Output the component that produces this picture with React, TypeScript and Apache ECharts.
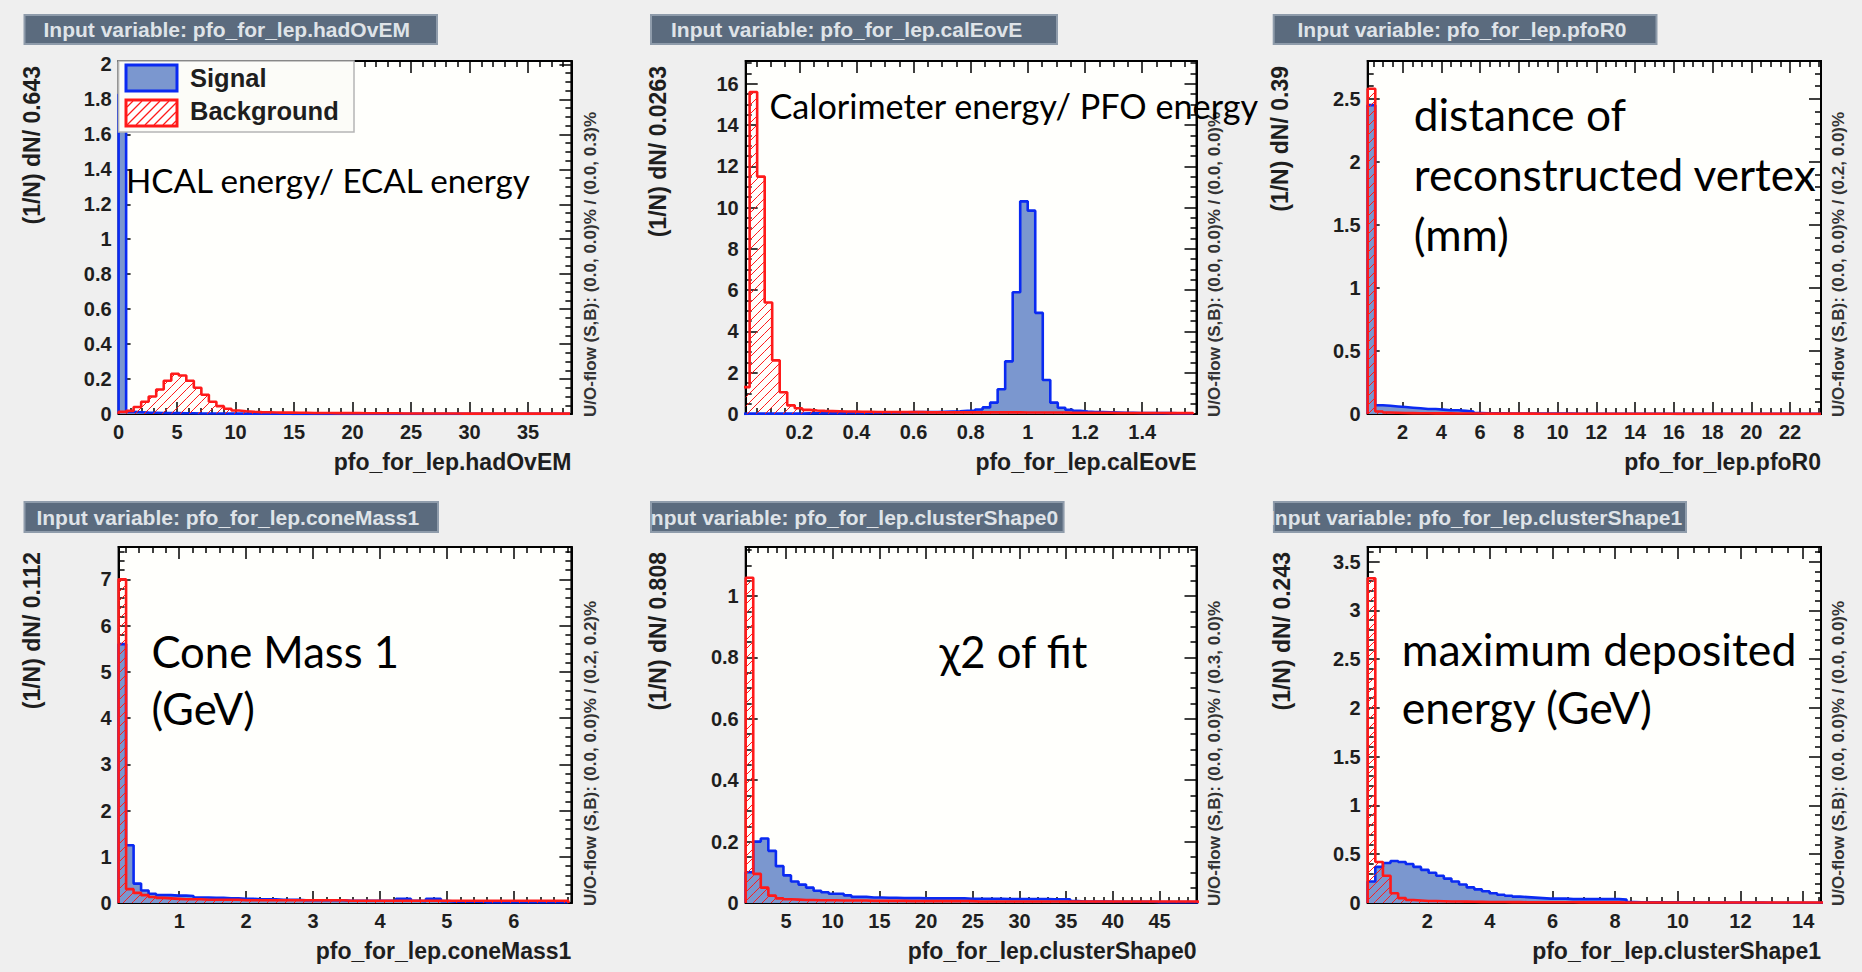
import React, { useEffect, useRef } from "react";
import * as echarts from "echarts";

// ---------------- DATA ----------------
// Panel 1: pfo_for_lep.hadOvEM
const HAD_NAME = "pfo_for_lep.hadOvEM";
const HAD_X_RANGE = [0, 38.7];
const HAD_Y_MAX = 2.02;
const HAD_BIN_START = 0;
const HAD_BIN_WIDTH = 0.643;
const HAD_X_TICKS = [0, 5, 10, 15, 20, 25, 30, 35];
const HAD_Y_TICKS = [0, 0.2, 0.4, 0.6, 0.8, 1, 1.2, 1.4, 1.6, 1.8, 2];
const HAD_MINOR = [1, 0.05];
const HAD_SIGNAL = [
  1.83, 0.012, 0.010, 0.008, 0.007, 0.006, 0.005, 0.005, 0.004, 0.004,
  0.003, 0.003, 0.003, 0.003, 0.002, 0.002, 0.002, 0.002, 0.002, 0.002,
  0.002, 0.002, 0.001, 0.001, 0.001, 0.001, 0.001, 0.001, 0.001, 0.001,
  0.001, 0.001, 0.001, 0.001, 0.001, 0.001, 0.001, 0.001, 0.001, 0.001,
  0.001, 0.001, 0.001, 0.001, 0.001, 0.001, 0.001, 0.001, 0.001, 0.001,
  0.001, 0.001, 0.001, 0.001, 0.001, 0.001, 0.001, 0.001, 0.001, 0.001,
];
const HAD_BACKGROUND = [
  0.012, 0.018, 0.040, 0.070, 0.100, 0.140, 0.190, 0.230, 0.220, 0.190,
  0.150, 0.110, 0.070, 0.045, 0.030, 0.020, 0.016, 0.013, 0.011, 0.010,
  0.009, 0.008, 0.008, 0.007, 0.007, 0.006, 0.006, 0.006, 0.005, 0.005,
  0.005, 0.005, 0.004, 0.004, 0.004, 0.004, 0.004, 0.003, 0.003, 0.003,
  0.003, 0.003, 0.003, 0.003, 0.003, 0.002, 0.002, 0.002, 0.002, 0.002,
  0.002, 0.002, 0.002, 0.002, 0.002, 0.002, 0.002, 0.002, 0.002, 0.002,
];

// Panel 2: pfo_for_lep.calEovE
const CAL_NAME = "pfo_for_lep.calEovE";
const CAL_X_RANGE = [0.0125, 1.59];
const CAL_Y_MAX = 17.1;
const CAL_BIN_START = 0;
const CAL_BIN_WIDTH = 0.0263;
const CAL_X_TICKS = [0.2, 0.4, 0.6, 0.8, 1, 1.2, 1.4];
const CAL_Y_TICKS = [0, 2, 4, 6, 8, 10, 12, 14, 16];
const CAL_MINOR = [0.05, 0.5];
const CAL_SIGNAL = [
  0.02, 0.02, 0.02, 0.02, 0.02, 0.02, 0.02, 0.02, 0.03, 0.03,
  0.03, 0.03, 0.03, 0.04, 0.04, 0.04, 0.05, 0.05, 0.06, 0.07,
  0.08, 0.08, 0.09, 0.09, 0.10, 0.10, 0.11, 0.12, 0.13, 0.15,
  0.17, 0.22, 0.32, 0.55, 1.20, 2.55, 5.90, 10.30, 9.85, 4.90,
  1.65, 0.55, 0.30, 0.20, 0.15, 0.12, 0.10, 0.09, 0.08, 0.07,
  0.06, 0.06, 0.05, 0.05, 0.04, 0.04, 0.04, 0.03, 0.03, 0.03,
];
const CAL_BACKGROUND = [
  1.30, 15.60, 11.50, 5.40, 2.60, 1.05, 0.42, 0.28, 0.20, 0.17,
  0.15, 0.14, 0.13, 0.12, 0.12, 0.11, 0.11, 0.10, 0.10, 0.10,
  0.09, 0.09, 0.09, 0.09, 0.08, 0.08, 0.08, 0.08, 0.08, 0.08,
  0.08, 0.08, 0.08, 0.08, 0.08, 0.08, 0.08, 0.07, 0.07, 0.07,
  0.07, 0.07, 0.07, 0.06, 0.06, 0.06, 0.06, 0.06, 0.06, 0.05,
  0.05, 0.05, 0.05, 0.05, 0.05, 0.05, 0.04, 0.04, 0.04, 0.04,
];

// Panel 3: pfo_for_lep.pfoR0
const R0_NAME = "pfo_for_lep.pfoR0";
const R0_X_RANGE = [0.2, 23.6];
const R0_Y_MAX = 2.8;
const R0_BIN_START = 0.2;
const R0_BIN_WIDTH = 0.39;
const R0_X_TICKS = [2, 4, 6, 8, 10, 12, 14, 16, 18, 20, 22];
const R0_Y_TICKS = [0, 0.5, 1, 1.5, 2, 2.5];
const R0_MINOR = [0.5, 0.1];
const R0_SIGNAL = [
  2.45, 0.070, 0.065, 0.060, 0.055, 0.050, 0.045, 0.040, 0.040, 0.035,
  0.030, 0.030, 0.025, 0.020, 0.008, 0.006, 0.005, 0.005, 0.004, 0.004,
  0.004, 0.003, 0.003, 0.003, 0.003, 0.003, 0.003, 0.002, 0.002, 0.002,
  0.002, 0.002, 0.002, 0.002, 0.002, 0.002, 0.002, 0.002, 0.002, 0.002,
  0.001, 0.001, 0.001, 0.001, 0.001, 0.001, 0.001, 0.001, 0.001, 0.001,
  0.001, 0.001, 0.001, 0.001, 0.001, 0.001, 0.001, 0.001, 0.001, 0.001,
];
const R0_BACKGROUND = [
  2.58, 0.020, 0.012, 0.010, 0.008, 0.007, 0.006, 0.006, 0.005, 0.005,
  0.005, 0.004, 0.004, 0.004, 0.004, 0.003, 0.003, 0.003, 0.003, 0.003,
  0.003, 0.003, 0.002, 0.002, 0.002, 0.002, 0.002, 0.002, 0.002, 0.002,
  0.002, 0.002, 0.002, 0.002, 0.002, 0.002, 0.002, 0.002, 0.002, 0.002,
  0.001, 0.001, 0.001, 0.001, 0.001, 0.001, 0.001, 0.001, 0.001, 0.001,
  0.001, 0.001, 0.001, 0.001, 0.001, 0.001, 0.001, 0.001, 0.001, 0.001,
];

// Panel 4: pfo_for_lep.coneMass1
const CONE_NAME = "pfo_for_lep.coneMass1";
const CONE_X_RANGE = [0.094, 6.86];
const CONE_Y_MAX = 7.7;
const CONE_BIN_START = 0.094;
const CONE_BIN_WIDTH = 0.112;
const CONE_X_TICKS = [1, 2, 3, 4, 5, 6];
const CONE_Y_TICKS = [0, 1, 2, 3, 4, 5, 6, 7];
const CONE_MINOR = [0.2, 0.2];
const CONE_SIGNAL = [
  5.60, 1.25, 0.42, 0.27, 0.20, 0.17, 0.17, 0.16, 0.16, 0.15,
  0.12, 0.12, 0.11, 0.11, 0.10, 0.10, 0.09, 0.09, 0.08, 0.08,
  0.08, 0.07, 0.07, 0.07, 0.06, 0.06, 0.06, 0.06, 0.06, 0.06,
  0.05, 0.05, 0.05, 0.05, 0.05, 0.05, 0.05, 0.09, 0.09, 0.05,
  0.04, 0.09, 0.09, 0.04, 0.03, 0.03, 0.03, 0.03, 0.02, 0.02,
  0.02, 0.02, 0.02, 0.02, 0.02, 0.02, 0.02, 0.02, 0.02, 0.02,
];
const CONE_BACKGROUND = [
  7.00, 0.30, 0.22, 0.17, 0.13, 0.11, 0.10, 0.09, 0.08, 0.08,
  0.08, 0.07, 0.07, 0.07, 0.07, 0.07, 0.06, 0.06, 0.06, 0.06,
  0.06, 0.06, 0.06, 0.06, 0.06, 0.06, 0.06, 0.06, 0.06, 0.06,
  0.05, 0.05, 0.05, 0.05, 0.05, 0.05, 0.05, 0.05, 0.05, 0.05,
  0.05, 0.05, 0.05, 0.05, 0.05, 0.05, 0.05, 0.05, 0.05, 0.05,
  0.05, 0.05, 0.05, 0.05, 0.05, 0.05, 0.05, 0.05, 0.05, 0.05,
];

// Panel 5: pfo_for_lep.clusterShape0
const SH0_NAME = "pfo_for_lep.clusterShape0";
const SH0_X_RANGE = [0.68, 48.95];
const SH0_Y_MAX = 1.16;
const SH0_BIN_START = 0.68;
const SH0_BIN_WIDTH = 0.808;
const SH0_X_TICKS = [5, 10, 15, 20, 25, 30, 35, 40, 45];
const SH0_Y_TICKS = [0, 0.2, 0.4, 0.6, 0.8, 1];
const SH0_MINOR = [1, 0.05];
const SH0_SIGNAL = [
  0.10, 0.20, 0.21, 0.17, 0.12, 0.09, 0.07, 0.06, 0.05, 0.04,
  0.035, 0.030, 0.030, 0.025, 0.020, 0.020, 0.018, 0.018, 0.017, 0.017,
  0.016, 0.016, 0.016, 0.015, 0.015, 0.015, 0.015, 0.015, 0.015, 0.014,
  0.014, 0.014, 0.014, 0.014, 0.013, 0.013, 0.013, 0.013, 0.013, 0.013,
  0.012, 0.012, 0.012, 0.006, 0.005, 0.005, 0.005, 0.005, 0.004, 0.004,
  0.004, 0.004, 0.004, 0.004, 0.003, 0.003, 0.003, 0.003, 0.003, 0.003,
];
const SH0_BACKGROUND = [
  1.06, 0.095, 0.050, 0.024, 0.015, 0.012, 0.011, 0.010, 0.010, 0.009,
  0.009, 0.009, 0.008, 0.008, 0.008, 0.008, 0.007, 0.007, 0.007, 0.007,
  0.007, 0.006, 0.006, 0.006, 0.006, 0.006, 0.006, 0.006, 0.006, 0.006,
  0.005, 0.005, 0.005, 0.005, 0.005, 0.005, 0.005, 0.005, 0.005, 0.005,
  0.005, 0.005, 0.005, 0.005, 0.005, 0.005, 0.005, 0.005, 0.005, 0.005,
  0.005, 0.005, 0.005, 0.005, 0.005, 0.005, 0.005, 0.005, 0.005, 0.005,
];

// Panel 6: pfo_for_lep.clusterShape1
const SH1_NAME = "pfo_for_lep.clusterShape1";
const SH1_X_RANGE = [0.1, 14.57];
const SH1_Y_MAX = 3.65;
const SH1_BIN_START = 0.1;
const SH1_BIN_WIDTH = 0.243;
const SH1_X_TICKS = [2, 4, 6, 8, 10, 12, 14];
const SH1_Y_TICKS = [0, 0.5, 1, 1.5, 2, 2.5, 3, 3.5];
const SH1_MINOR = [0.5, 0.1];
const SH1_SIGNAL = [
  0.22, 0.37, 0.41, 0.43, 0.42, 0.40, 0.37, 0.34, 0.31, 0.28,
  0.25, 0.22, 0.19, 0.16, 0.14, 0.12, 0.10, 0.085, 0.075, 0.065,
  0.060, 0.055, 0.050, 0.045, 0.045, 0.045, 0.040, 0.040, 0.040, 0.040,
  0.040, 0.040, 0.040, 0.035, 0.010, 0.008, 0.008, 0.008, 0.007, 0.007,
  0.006, 0.006, 0.006, 0.005, 0.005, 0.005, 0.005, 0.004, 0.004, 0.004,
  0.004, 0.004, 0.003, 0.003, 0.003, 0.003, 0.003, 0.003, 0.003, 0.003,
];
const SH1_BACKGROUND = [
  3.33, 0.42, 0.28, 0.10, 0.05, 0.03, 0.025, 0.020, 0.020, 0.018,
  0.016, 0.015, 0.014, 0.013, 0.012, 0.011, 0.010, 0.010, 0.009, 0.009,
  0.008, 0.008, 0.008, 0.007, 0.007, 0.007, 0.007, 0.006, 0.006, 0.006,
  0.006, 0.006, 0.006, 0.005, 0.005, 0.005, 0.005, 0.005, 0.005, 0.005,
  0.005, 0.005, 0.005, 0.005, 0.005, 0.005, 0.005, 0.005, 0.005, 0.005,
  0.005, 0.005, 0.005, 0.005, 0.005, 0.005, 0.005, 0.005, 0.005, 0.005,
];

const Y_TITLES = [
  "(1/N) dN/ 0.643",
  "(1/N) dN/ 0.0263",
  "(1/N) dN/ 0.39",
  "(1/N) dN/ 0.112",
  "(1/N) dN/ 0.808",
  "(1/N) dN/ 0.243",
];
const FLOW_TEXTS = [
  "U/O-flow (S,B): (0.0, 0.0)% / (0.0, 0.3)%",
  "U/O-flow (S,B): (0.0, 0.0)% / (0.0, 0.0)%",
  "U/O-flow (S,B): (0.0, 0.0)% / (0.2, 0.0)%",
  "U/O-flow (S,B): (0.0, 0.0)% / (0.2, 0.2)%",
  "U/O-flow (S,B): (0.0, 0.0)% / (0.3, 0.0)%",
  "U/O-flow (S,B): (0.0, 0.0)% / (0.0, 0.0)%",
];
const ANNOTATIONS = [
  ["HCAL energy/ ECAL energy"],
  ["Calorimeter energy/ PFO energy"],
  ["distance of", "reconstructed vertex", "(mm)"],
  ["Cone Mass 1", "(GeV)"],
  ["χ2 of fit"],
  ["maximum deposited", "energy (GeV)"],
];
const LEGEND_LABELS = ["Signal", "Background"];

const PANELS = [
  { name: HAD_NAME, xr: HAD_X_RANGE, ymax: HAD_Y_MAX, start: HAD_BIN_START, bw: HAD_BIN_WIDTH, xt: HAD_X_TICKS, yt: HAD_Y_TICKS, minor: HAD_MINOR, sig: HAD_SIGNAL, bkg: HAD_BACKGROUND },
  { name: CAL_NAME, xr: CAL_X_RANGE, ymax: CAL_Y_MAX, start: CAL_BIN_START, bw: CAL_BIN_WIDTH, xt: CAL_X_TICKS, yt: CAL_Y_TICKS, minor: CAL_MINOR, sig: CAL_SIGNAL, bkg: CAL_BACKGROUND },
  { name: R0_NAME, xr: R0_X_RANGE, ymax: R0_Y_MAX, start: R0_BIN_START, bw: R0_BIN_WIDTH, xt: R0_X_TICKS, yt: R0_Y_TICKS, minor: R0_MINOR, sig: R0_SIGNAL, bkg: R0_BACKGROUND },
  { name: CONE_NAME, xr: CONE_X_RANGE, ymax: CONE_Y_MAX, start: CONE_BIN_START, bw: CONE_BIN_WIDTH, xt: CONE_X_TICKS, yt: CONE_Y_TICKS, minor: CONE_MINOR, sig: CONE_SIGNAL, bkg: CONE_BACKGROUND },
  { name: SH0_NAME, xr: SH0_X_RANGE, ymax: SH0_Y_MAX, start: SH0_BIN_START, bw: SH0_BIN_WIDTH, xt: SH0_X_TICKS, yt: SH0_Y_TICKS, minor: SH0_MINOR, sig: SH0_SIGNAL, bkg: SH0_BACKGROUND },
  { name: SH1_NAME, xr: SH1_X_RANGE, ymax: SH1_Y_MAX, start: SH1_BIN_START, bw: SH1_BIN_WIDTH, xt: SH1_X_TICKS, yt: SH1_Y_TICKS, minor: SH1_MINOR, sig: SH1_SIGNAL, bkg: SH1_BACKGROUND },
];

// ---------------- LAYOUT / STYLE ----------------
const GRID_BOXES = [
  { left: 118.6, top: 61, width: 452.8, height: 353 },
  { left: 745.7, top: 61, width: 450.8, height: 353 },
  { left: 1367.7, top: 61, width: 453.3, height: 353 },
  { left: 118.6, top: 547, width: 452.8, height: 356 },
  { left: 745.7, top: 547, width: 450.8, height: 356 },
  { left: 1367.7, top: 547, width: 453.3, height: 356 },
];
const TITLE_BOXES = [
  { x: 24.5, y: 15, w: 412.5, h: 29, tx: 43.5, cover: false },
  { x: 651, y: 15, w: 406, h: 29, tx: 671, cover: false },
  { x: 1273.7, y: 15, w: 382.8, h: 29, tx: 1297.5, cover: false },
  { x: 24.5, y: 502, w: 413.5, h: 30, tx: 36.4, cover: false },
  { x: 651, y: 502, w: 412.6, h: 30, tx: 645, cover: true },
  { x: 1273.7, y: 502, w: 412.3, h: 30, tx: 1269, cover: true },
];
const Y_TITLE_X = [31.6, 657.6, 1279.7, 31.6, 657.6, 1281.6];
const FLOW_X = [590, 1214, 1838, 590, 1214, 1838];
const ANNOT_POS = [
  { x: 126, ys: [180], size: 33.2 },
  { x: 769.5, ys: [105], size: 34.2 },
  { x: 1413.7, ys: [113.5, 173.5, 233], size: 44.2 },
  { x: 151.4, ys: [650.5, 708], size: 43.6 },
  { x: 939.5, ys: [650.5], size: 43.6 },
  { x: 1401.8, ys: [648.5, 706], size: 44.6 },
];

const BG = "#efefef";
const PLOT_BG = "#fffffc";
const SIG_FILL = "#7b97cf";
const SIG_LINE = "#0a2af2";
const BKG_LINE = "#ff1a1a";
const ROOT_FONT = "Liberation Sans";
const NOTE_FONT = "Lato";
const HATCH = 9;

function stepPoints(start: number, bw: number, values: number[]) {
  const pts: number[][] = [[start, 0]];
  values.forEach((v, i) => pts.push([start + i * bw, v]));
  const end = start + values.length * bw;
  pts.push([end, values[values.length - 1]]);
  pts.push([end, 0]);
  return pts;
}

function minorTicks(min: number, max: number, step: number, majors: number[]) {
  const out: number[] = [];
  const k0 = Math.ceil(min / step - 1e-9);
  for (let k = k0; k * step <= max + 1e-9; k++) {
    const v = +(k * step).toFixed(6);
    if (!majors.some((m) => Math.abs(m - v) < 1e-9)) out.push(v);
  }
  return out;
}

function hatchLines(left: number, top: number, right: number, bottom: number, color: string, lw: number) {
  const lines: any[] = [];
  for (let c = Math.ceil((left + top) / HATCH) * HATCH; c <= right + bottom; c += HATCH) {
    const xa = Math.max(left, c - bottom);
    const xb = Math.min(right, c - top);
    if (xb > xa) {
      lines.push({
        type: "line",
        shape: { x1: xa, y1: c - xa, x2: xb, y2: c - xb },
        style: { stroke: color, lineWidth: lw },
      });
    }
  }
  return lines;
}

function buildOption() {
  const grids: any[] = [];
  const xAxes: any[] = [];
  const yAxes: any[] = [];
  const series: any[] = [];
  const graphics: any[] = [];

  const tickLine = { color: "#000", width: 1.5 };
  const labelStyle = {
    fontFamily: ROOT_FONT,
    fontWeight: "bold",
    fontSize: 20,
    color: "#1e1e1e",
  };

  PANELS.forEach((p, i) => {
    const g = GRID_BOXES[i];
    grids.push({
      left: g.left,
      top: g.top,
      width: g.width,
      height: g.height,
      show: true,
      backgroundColor: PLOT_BG,
      borderColor: "#000",
      borderWidth: 2,
      containLabel: false,
      outerBoundsMode: "none",
    });
    const xMinor = minorTicks(p.xr[0], p.xr[1], p.minor[0], p.xt);
    const yMinor = minorTicks(0, p.ymax, p.minor[1], p.yt);

    const mkX = (position: string, values: number[], len: number, showLabel: boolean, showLine: boolean) => ({
      type: "value",
      gridIndex: i,
      position,
      min: p.xr[0],
      max: p.xr[1],
      axisLine: { show: showLine, onZero: false, lineStyle: { color: "#000", width: 2 } },
      axisTick: { show: true, inside: true, length: len, customValues: values, lineStyle: tickLine },
      axisLabel: showLabel
        ? { show: true, customValues: values, margin: 8, ...labelStyle }
        : { show: false },
      splitLine: { show: false },
      minorTick: { show: false },
    });
    const mkY = (position: string, values: number[], len: number, showLabel: boolean, showLine: boolean) => ({
      type: "value",
      gridIndex: i,
      position,
      min: 0,
      max: p.ymax,
      axisLine: { show: showLine, onZero: false, lineStyle: { color: "#000", width: 2 } },
      axisTick: { show: true, inside: true, length: len, customValues: values, lineStyle: tickLine },
      axisLabel: showLabel
        ? { show: true, customValues: values, margin: 7, ...labelStyle }
        : { show: false },
      splitLine: { show: false },
      minorTick: { show: false },
    });

    const xBase = xAxes.length;
    xAxes.push(mkX("bottom", p.xt, 12, true, true));
    xAxes.push(mkX("bottom", xMinor, 6, false, false));
    xAxes.push(mkX("top", p.xt, 12, false, true));
    xAxes.push(mkX("top", xMinor, 6, false, false));
    const yBase = yAxes.length;
    yAxes.push(mkY("left", p.yt, 12, true, true));
    yAxes.push(mkY("left", yMinor, 6, false, false));
    yAxes.push(mkY("right", p.yt, 12, false, true));
    yAxes.push(mkY("right", yMinor, 6, false, false));

    series.push({
      type: "line",
      name: LEGEND_LABELS[0],
      xAxisIndex: xBase,
      yAxisIndex: yBase,
      step: "end",
      data: stepPoints(p.start, p.bw, p.sig),
      symbol: "none",
      silent: true,
      lineStyle: { color: SIG_LINE, width: 2.6 },
      areaStyle: { color: SIG_FILL, opacity: 1 },
      z: 2,
    });
    series.push({
      type: "custom",
      name: LEGEND_LABELS[1] + " hatch",
      xAxisIndex: xBase,
      yAxisIndex: yBase,
      silent: true,
      z: 3,
      dimensions: ["x0", "x1", "v"],
      encode: { x: [0, 1], y: 2 },
      data: p.bkg.map((v, k) => [p.start + k * p.bw, p.start + (k + 1) * p.bw, v]),
      renderItem: (params: any, api: any) => {
        const a = api.coord([api.value(0), api.value(2)]);
        const b = api.coord([api.value(1), 0]);
        const cs = params.coordSys;
        const left = Math.max(a[0], cs.x);
        const right = Math.min(b[0], cs.x + cs.width);
        const top = Math.max(a[1], cs.y);
        const bottom = Math.min(b[1], cs.y + cs.height);
        if (right <= left || bottom - top < 1) return null;
        return { type: "group", children: hatchLines(left, top, right, bottom, BKG_LINE, 1) };
      },
    });
    series.push({
      type: "line",
      name: LEGEND_LABELS[1],
      xAxisIndex: xBase,
      yAxisIndex: yBase,
      step: "end",
      data: stepPoints(p.start, p.bw, p.bkg),
      symbol: "none",
      silent: true,
      lineStyle: { color: BKG_LINE, width: 2.6 },
      z: 4,
    });

    // title box
    const tb = TITLE_BOXES[i];
    graphics.push({
      type: "rect",
      shape: { x: tb.x, y: tb.y, width: tb.w, height: tb.h },
      style: { fill: "#5b6b7e", stroke: "#8f9cab", lineWidth: 2 },
      z: 100,
    });
    graphics.push({
      type: "text",
      x: tb.tx,
      y: tb.y + tb.h / 2,
      style: {
        text: "Input variable: " + p.name,
        fontFamily: ROOT_FONT,
        fontWeight: "bold",
        fontSize: 21,
        fill: "#dfe3e8",
        align: "left",
        verticalAlign: "middle",
      },
      z: 101,
    });
    if (tb.cover) {
      graphics.push({
        type: "rect",
        shape: { x: tb.x - 14, y: tb.y - 2, width: 13, height: tb.h + 4 },
        style: { fill: BG },
        z: 102,
      });
    }

    // y title
    graphics.push({
      type: "text",
      x: Y_TITLE_X[i],
      y: g.top + 5,
      rotation: Math.PI / 2,
      style: {
        text: Y_TITLES[i],
        fontFamily: ROOT_FONT,
        fontWeight: "bold",
        fontSize: 23,
        fill: "#1e1e1e",
        align: "right",
        verticalAlign: "middle",
      },
      z: 100,
    });
    // x title
    graphics.push({
      type: "text",
      x: g.left + g.width,
      y: g.top + g.height + 48,
      style: {
        text: p.name,
        fontFamily: ROOT_FONT,
        fontWeight: "bold",
        fontSize: 23,
        fill: "#1e1e1e",
        align: "right",
        verticalAlign: "middle",
      },
      z: 100,
    });
    // U/O flow
    graphics.push({
      type: "text",
      x: FLOW_X[i],
      y: g.top + g.height + 3,
      rotation: Math.PI / 2,
      style: {
        text: FLOW_TEXTS[i],
        fontFamily: ROOT_FONT,
        fontWeight: "bold",
        fontSize: 17,
        fill: "#333",
        align: "left",
        verticalAlign: "middle",
      },
      z: 100,
    });
    // annotations
    const ap = ANNOT_POS[i];
    ANNOTATIONS[i].forEach((line, k) => {
      graphics.push({
        type: "text",
        x: ap.x,
        y: ap.ys[k],
        style: {
          text: line,
          fontFamily: NOTE_FONT,
          fontSize: ap.size,
          fill: "#000",
          align: "left",
          verticalAlign: "middle",
        },
        z: 110,
      });
    });
  });

  // legend (panel 1)
  const lg = { x: 118.6, y: 61, w: 235.4, h: 71 };
  graphics.push({
    type: "rect",
    shape: { x: lg.x, y: lg.y, width: lg.w, height: lg.h },
    style: { fill: "#fcfcf8", stroke: "#b5b5b5", lineWidth: 1.5 },
    z: 120,
  });
  graphics.push({
    type: "rect",
    shape: { x: 126, y: 65, width: 51, height: 26 },
    style: { fill: SIG_FILL, stroke: SIG_LINE, lineWidth: 3 },
    z: 121,
  });
  graphics.push({
    type: "rect",
    shape: { x: 126, y: 100, width: 51, height: 26 },
    style: { fill: "#ffffff", stroke: BKG_LINE, lineWidth: 3 },
    z: 121,
  });
  hatchLines(127, 101, 176, 125, BKG_LINE, 1.2).forEach((l) => graphics.push({ ...l, z: 122 }));
  LEGEND_LABELS.forEach((t, k) => {
    graphics.push({
      type: "text",
      x: 190,
      y: k === 0 ? 78 : 111,
      style: {
        text: t,
        fontFamily: ROOT_FONT,
        fontWeight: "bold",
        fontSize: 25.5,
        fill: "#1e1e1e",
        align: "left",
        verticalAlign: "middle",
      },
      z: 123,
    });
  });

  return {
    animation: false,
    backgroundColor: BG,
    grid: grids,
    xAxis: xAxes,
    yAxis: yAxes,
    series,
    graphic: { elements: graphics },
  };
}

export default function App() {
  const ref = useRef<HTMLDivElement>(null);
  useEffect(() => {
    if (!ref.current) return;
    const chart = echarts.init(ref.current, undefined, { renderer: "svg" });
    chart.setOption(buildOption() as any);
    return () => chart.dispose();
  }, []);
  return (
    <div
      ref={ref}
      style={{ position: "fixed", left: 0, top: 0, width: 1862, height: 972 }}
    />
  );
}
